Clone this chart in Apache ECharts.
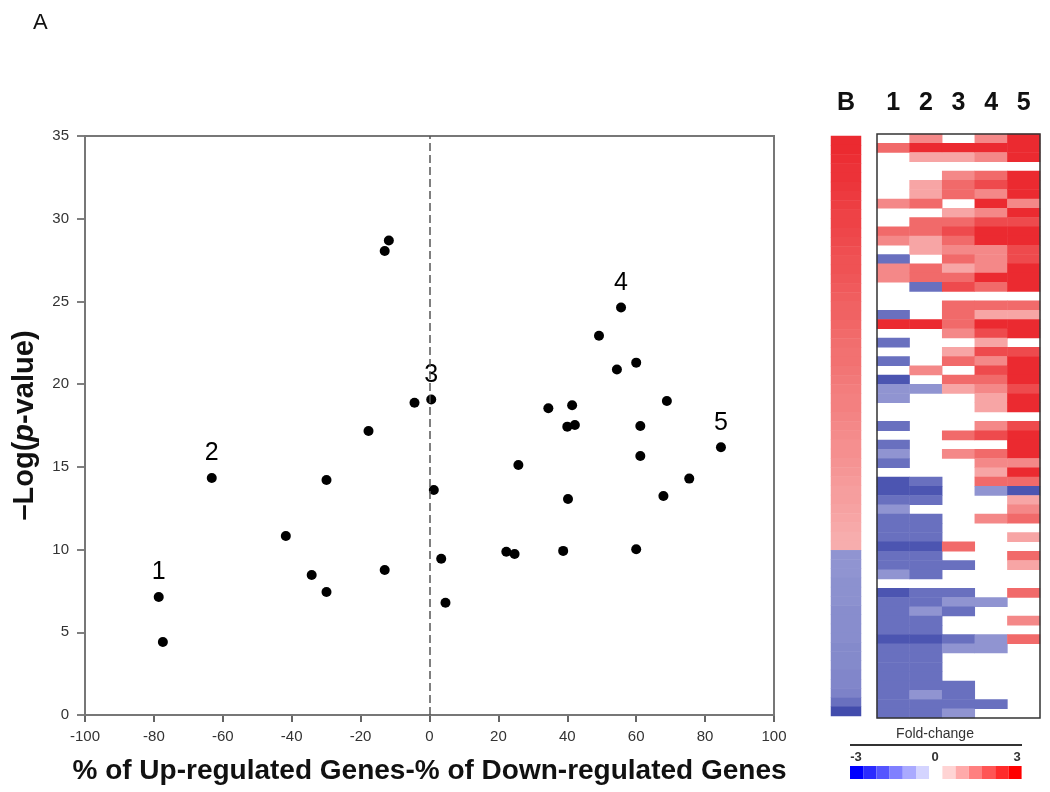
<!DOCTYPE html>
<html>
<head>
<meta charset="utf-8">
<script src="https://cdn.jsdelivr.net/npm/echarts@6/dist/echarts.min.js"></script>
<style>html,body{margin:0;padding:0;background:#fff}#c{width:1050px;height:792px}</style>
</head>
<body>
<div id="c"></div>
<script>
// ---- Scatter (panel A) ----
const xVals = [-78.6,-77.4,-63.2,-41.7,-34.2,-29.9,-29.9,-17.7,-13.0,-13.0,-11.8,-4.35,0.5,1.25,3.4,4.64,22.3,24.7,25.8,34.5,38.8,40.0,42.2,41.4,40.2,49.2,54.4,55.6,60.0,60.0,61.2,61.2,67.9,68.9,75.4,84.6];
const yVals = [7.13,4.41,14.33,10.82,8.46,14.21,7.44,17.17,8.77,28.05,28.68,18.88,19.07,13.6,9.45,6.79,9.87,9.73,15.11,18.54,9.92,17.43,17.53,18.72,13.06,22.93,20.88,24.63,21.3,10.02,17.47,15.66,13.24,18.98,14.29,16.19];
const pointLabels = ['1','2','3','4','5'];
const labelIndex = [0,2,12,27,35];
const xTicks = [-100,-80,-60,-40,-20,0,20,40,60,80,100];
const yTicks = [0,5,10,15,20,25,30,35];

// ---- Heatmap (panel B) ----
const heatCols = ['1','2','3','4','5'];
const fc1 = [0,2.0,0,0,0,0,0,1.6,0,0,2.0,1.6,0,-1.8,1.6,1.6,0,0,0,-1.8,2.8,0,-1.8,0,-1.8,0,-2.3,-1.3,-1.3,0,0,-1.8,0,-1.8,-1.3,-1.8,0,-2.3,-2.3,-1.8,-1.3,-1.8,-1.8,-1.8,-2.3,-1.8,-1.8,-1.3,0,-2.3,-1.8,-1.8,-1.8,-1.8,-2.3,-1.8,-1.8,-1.8,-1.8,-1.8,-1.8,-1.8,-1.8];
const fc2 = [1.6,2.8,1.2,0,0,1.2,1.2,2.0,0,2.0,2.0,1.2,1.2,0,2.0,2.0,-1.8,0,0,0,2.8,0,0,0,0,1.6,0,-1.3,0,0,0,0,0,0,0,0,0,-1.8,-2.3,-1.8,0,-1.8,-1.8,-1.8,-2.3,-1.8,-1.8,-1.8,0,-1.8,-1.8,-1.3,-1.8,-1.8,-2.3,-1.8,-1.8,-1.8,-1.8,-1.8,-1.3,-1.8,-1.8];
const fc3 = [0,2.8,1.2,0,1.6,2.0,2.0,0,1.2,2.0,2.4,2.0,1.6,2.0,1.2,2.0,2.4,0,2.0,2.0,2.0,1.6,0,1.2,2.0,0,2.0,1.2,0,0,0,0,2.0,0,1.6,0,0,0,0,0,0,0,0,0,2.0,0,-1.8,0,0,-1.8,-1.3,-1.8,0,0,-1.8,-1.3,0,0,0,-1.8,-1.8,-1.8,-1.3];
const fc4 = [1.6,2.8,1.6,0,2.0,2.4,1.6,2.8,1.6,2.4,2.8,2.8,1.6,1.6,1.6,2.8,2.0,0,2.0,1.2,2.8,2.4,1.2,2.4,1.6,2.4,2.0,1.6,1.2,1.2,0,1.6,2.4,0,2.0,1.6,1.2,2.0,-1.3,0,0,1.6,0,0,0,0,0,0,0,0,-1.3,0,0,0,-1.3,-1.3,0,0,0,0,0,-1.8,0];
const fc5 = [2.8,2.8,2.8,0,2.8,2.8,2.8,1.6,2.8,2.4,2.8,2.8,2.4,2.4,2.8,2.8,2.8,0,2.0,1.2,2.8,2.8,0,2.4,2.8,2.8,2.8,2.4,2.8,2.8,0,2.4,2.8,2.8,2.8,1.6,2.8,2.0,-2.3,1.2,1.6,2.0,0,1.2,0,2.0,1.2,0,0,2.0,0,0,1.6,0,2.0,0,0,0,0,0,0,0,0];
const fcB = [2.8,2.8,2.75,2.7,2.7,2.65,2.6,2.55,2.5,2.5,2.45,2.4,2.35,2.3,2.3,2.25,2.2,2.15,2.1,2.1,2.05,2.0,1.95,1.9,1.9,1.85,1.8,1.75,1.7,1.7,1.65,1.6,1.55,1.5,1.5,1.45,1.4,1.35,1.3,1.3,1.25,1.2,1.15,1.1,1.1,-1.3,-1.3,-1.3,-1.35,-1.35,-1.35,-1.4,-1.4,-1.4,-1.4,-1.45,-1.45,-1.45,-1.5,-1.5,-1.55,-1.8,-2.5];
const legendSteps = [-3,-2.5,-2,-1.5,-1,-0.5,0,0.5,1,1.5,2,2.5,3];
const legendColors = ['#0000ff','#2b2bff','#5555ff','#8080ff','#aaaaff','#d4d4ff','#ffffff','#ffd4d4','#ffaaaa','#ff8080','#ff5555','#ff2b2b','#ff0000'];

const FONT = 'Liberation Sans, Arial, sans-serif';
const rows = fcB.map((_, i) => String(i));
const cols = [fc1, fc2, fc3, fc4, fc5];
const heatData = [];
cols.forEach((col, c) => col.forEach((v, r) => { if (v !== 0) heatData.push([c, r, v]); }));
const bData = fcB.map((v, r) => [0, r, v]);
const scatterData = xVals.map((x, i) => {
  const k = labelIndex.indexOf(i);
  const d = { value: [x, yVals[i]] };
  if (k >= 0) d.label = { show: true, formatter: pointLabels[k] };
  return d;
});

const chart = echarts.init(document.getElementById('c'), null, { renderer: 'canvas' });
chart.setOption({
  backgroundColor: '#fff',
  animation: false,
  textStyle: { fontFamily: FONT },
  grid: [
    { left: 85, top: 136, width: 689, height: 579, show: true, borderColor: '#777', borderWidth: 2, backgroundColor: 'transparent', z: 3 },
    { left: 831, top: 136, width: 30, height: 580 },
    { left: 877, top: 134, width: 163, height: 584, show: true, borderColor: '#333', borderWidth: 1.5, backgroundColor: 'transparent', z: 10 }
  ],
  xAxis: [
    { type: 'value', gridIndex: 0, min: xTicks[0], max: xTicks[xTicks.length - 1], interval: 20,
      axisLine: { onZero: false, lineStyle: { color: '#333', width: 2 } },
      axisTick: { show: true, length: 7, lineStyle: { color: '#333', width: 1.5 } },
      splitLine: { show: false },
      axisLabel: { fontSize: 15, color: '#333', margin: 14, fontFamily: FONT },
      name: '% of Up-regulated Genes-% of Down-regulated Genes', nameLocation: 'middle', nameGap: 42,
      nameTextStyle: { fontSize: 28, fontWeight: 'bold', color: '#111', fontFamily: FONT } },
    { type: 'category', gridIndex: 1, data: ['B'], position: 'top',
      axisLine: { show: false }, axisTick: { show: false },
      axisLabel: { fontSize: 25, fontWeight: 'bold', color: '#111', margin: 20, fontFamily: FONT } },
    { type: 'category', gridIndex: 2, data: heatCols, position: 'top',
      axisLine: { show: false }, axisTick: { show: false },
      axisLabel: { fontSize: 25, fontWeight: 'bold', color: '#111', margin: 18, fontFamily: FONT } }
  ],
  yAxis: [
    { type: 'value', gridIndex: 0, min: yTicks[0], max: yTicks[yTicks.length - 1], interval: 5,
      axisLine: { show: true, onZero: false, lineStyle: { color: '#666', width: 2 } },
      axisTick: { show: true, length: 8, lineStyle: { color: '#555', width: 1.5 } },
      splitLine: { show: false },
      axisLabel: { fontSize: 15, color: '#333', margin: 16, fontFamily: FONT },
      name: '{a|–Log(}{i|p}{a|-value)}', nameLocation: 'middle', nameGap: 46, nameRotate: 90,
      nameTextStyle: { rich: {
        a: { fontSize: 29, fontWeight: 'bold', color: '#111', fontFamily: FONT },
        i: { fontSize: 29, fontWeight: 'bold', fontStyle: 'italic', color: '#111', fontFamily: FONT } } } },
    { type: 'category', gridIndex: 1, data: rows, inverse: true, show: false },
    { type: 'category', gridIndex: 2, data: rows, inverse: true, show: false }
  ],
  visualMap: [
    { type: 'continuous', show: false, seriesIndex: [1, 2], min: -3, max: 3,
      inRange: { color: ['#2a35a0', '#5a62b8', '#a7aadb', '#ffffff', '#f8b4b4', '#f16a6a', '#ea1a22'] } },
    { type: 'piecewise', seriesIndex: [3], orient: 'horizontal', left: 850, top: 766, padding: 0,
      itemWidth: 13.2, itemHeight: 13, itemGap: 0, itemSymbol: 'rect', showLabel: false, hoverLink: false,
      pieces: legendSteps.map((v, i) => ({ min: v - 0.25, max: v + 0.25, color: legendColors[i] })) }
  ],
  series: [
    { type: 'scatter', xAxisIndex: 0, yAxisIndex: 0, data: scatterData, symbolSize: 10,
      itemStyle: { color: '#000', opacity: 1 },
      label: { show: false, position: 'top', distance: 7, fontSize: 25, color: '#000', fontFamily: FONT },
      markLine: { silent: true, symbol: 'none', label: { show: false },
        lineStyle: { type: [8, 4], color: '#555', width: 1.5 }, data: [{ xAxis: 0 }] } },
    { type: 'heatmap', xAxisIndex: 1, yAxisIndex: 1, data: bData },
    { type: 'heatmap', xAxisIndex: 2, yAxisIndex: 2, data: heatData },
    { type: 'scatter', xAxisIndex: 0, yAxisIndex: 0, data: [] }
  ],
  graphic: [
    { type: 'text', x: 33, y: 12, style: { text: 'A', fontSize: 22, fill: '#111', fontFamily: FONT } },
    { type: 'text', x: 935, y: 727, style: { text: 'Fold-change', fontSize: 14, fill: '#333', fontFamily: FONT, align: 'center' } },
    { type: 'line', shape: { x1: 850, y1: 745, x2: 1022, y2: 745 }, style: { stroke: '#333', lineWidth: 2 } },
    { type: 'text', x: 856, y: 751, style: { text: '-3', fontSize: 13, fontWeight: 'bold', fill: '#333', align: 'center', fontFamily: FONT } },
    { type: 'text', x: 935, y: 751, style: { text: '0', fontSize: 13, fontWeight: 'bold', fill: '#333', align: 'center', fontFamily: FONT } },
    { type: 'text', x: 1017, y: 751, style: { text: '3', fontSize: 13, fontWeight: 'bold', fill: '#333', align: 'center', fontFamily: FONT } }
  ]
});
</script>
</body>
</html>
